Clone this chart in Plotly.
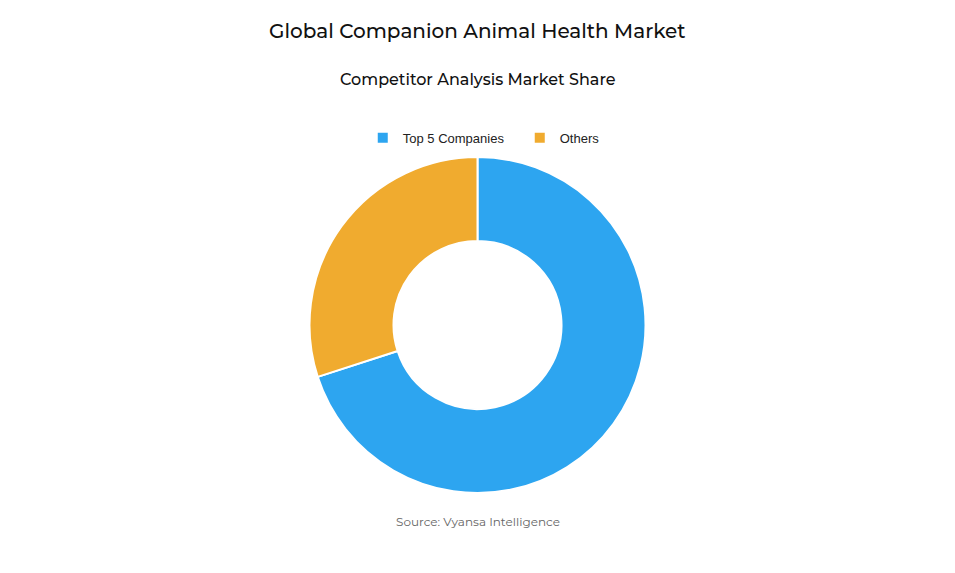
import plotly.graph_objects as go

LABELS = ["Top 5 Companies", "Others"]
SHARES = [70, 30]
COLORS = ["#2DA5F0", "#F0AB2F"]

TITLE = "Global Companion Animal Health Market"
SUBTITLE = "Competitor Analysis Market Share"
SOURCE = "Source: Vyansa Intelligence"

TITLE_FONT = "Montserrat, 'Open Sans', sans-serif"

fig = go.Figure(
    go.Pie(
        labels=LABELS,
        values=SHARES,
        hole=0.5,
        sort=False,
        direction="clockwise",
        rotation=0,
        marker=dict(colors=COLORS, line=dict(color="white", width=2)),
        textinfo="none",
        hoverinfo="label+percent",
    )
)

fig.add_annotation(
    text=TITLE, x=0.5, y=1.375, xref="paper", yref="paper",
    showarrow=False, yanchor="middle",
    font=dict(family=TITLE_FONT, size=20, weight=500, color="#111111"),
)
fig.add_annotation(
    text=SUBTITLE, x=0.5, y=1.232, xref="paper", yref="paper",
    showarrow=False, yanchor="middle",
    font=dict(family=TITLE_FONT, size=16, weight=500, color="#111111"),
)
fig.add_annotation(
    text=SOURCE, x=0.5, y=-0.085, xref="paper", yref="paper",
    showarrow=False, yanchor="middle",
    font=dict(family=TITLE_FONT, size=12, color="#666666"),
)

# page renders with an 8px body offset, so margins compensate for it
fig.update_layout(
    width=955,
    height=573,
    margin=dict(l=0, r=16, t=149, b=88),
    paper_bgcolor="white",
    plot_bgcolor="white",
    showlegend=True,
    legend=dict(
        orientation="h",
        x=0.545,
        xanchor="center",
        y=1.057,
        yanchor="middle",
        entrywidth=112,
        font=dict(family="Liberation Sans, Arial, sans-serif", size=13, color="#222222"),
    ),
)

fig.write_html("out.html")
